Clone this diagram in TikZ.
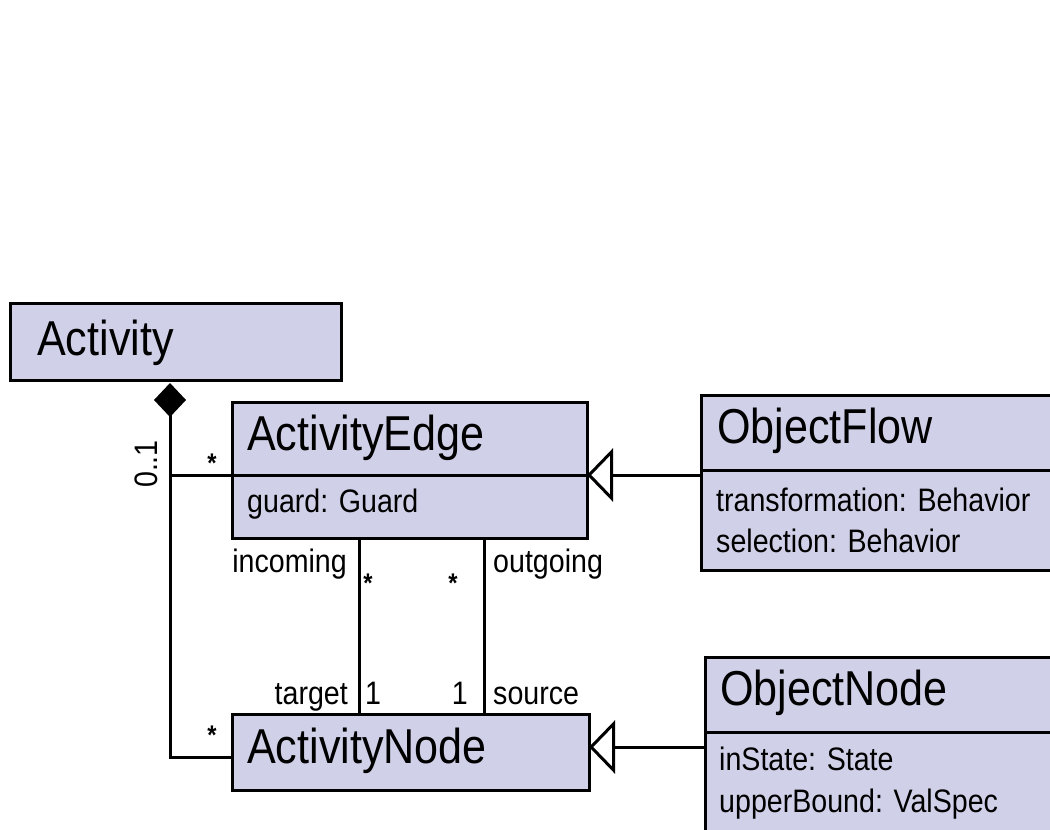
\documentclass[tikz,border=0pt]{standalone}
\usepackage{fontspec}
\setmainfont{Liberation Sans}[FakeStretch=0.88]
\usetikzlibrary{arrows.meta,positioning}
\usepackage{xcolor}
\definecolor{classfill}{RGB}{208,208,232}

\begin{document}
\begin{tikzpicture}[x=1pt,y=-1pt,
    classbox/.style={draw,fill=classfill,line width=3pt,outer sep=0pt,inner sep=0pt,anchor=north west},
    classname/.style={font=\fontsize{49}{55}\selectfont,inner sep=0pt,anchor=base west},
    attr/.style={font=\fontsize{32.5}{40}\selectfont,inner sep=0pt,anchor=base west},
    mult/.style={font=\fontsize{32.5}{40}\selectfont,inner sep=0pt},
    star/.style={font=\fontsize{27}{30}\bfseries\selectfont,inner sep=0pt,anchor=base},
    assoc/.style={line width=3pt},
    inherit/.style={line width=3pt,-{Triangle[open,width=53pt,length=26pt]}}]
  \useasboundingbox (0,0) rectangle (1050,830);

  % classes
  \node[classbox,minimum width=331pt,minimum height=77pt] (activity) at (10,303) {};
  \node[classbox,minimum width=355pt,minimum height=136pt] (actedge) at (232,402) {};
  \node[classbox,minimum width=357pt,minimum height=76pt] (actnode) at (232,714) {};
  \node[classbox,minimum width=500pt,minimum height=175pt] (objflow) at (701,395) {};
  \node[classbox,minimum width=500pt,minimum height=180pt] (objnode) at (705,657) {};

  \coordinate (edgediv) at ([yshift=-73pt]actedge.north west);
  \draw[assoc] (edgediv) -- (edgediv -| actedge.east);
  \draw[assoc] ([yshift=-75pt]objflow.north west) -- ([yshift=-75pt]objflow.north east);
  \draw[assoc] ([yshift=-75pt]objnode.north west) -- ([yshift=-75pt]objnode.north east);

  \node[classname] (activityname) at (37,355) {Activity};
  \node[classname] (actedgename) at (247,450) {ActivityEdge};
  \node[attr] (guard) at (247,512) {guard: Guard};
  \node[classname] (actnodename) at (247,763) {ActivityNode};
  \node[classname] (objflowname) at (717,443) {ObjectFlow};
  \node[attr] (transf) at (716,511) {transformation: Behavior};
  \node[attr] (select) at (716,552) {selection: Behavior};
  \node[classname] (objnodename) at (720,705) {ObjectNode};
  \node[attr] (instate) at (719,770) {inState: State};
  \node[attr] (upper) at (719,812) {upperBound: ValSpec};

  % composition
  \draw[assoc,{Diamond[width=32pt,length=34pt]}-] ([xshift=160pt,yshift=-3pt]activity.south west) coordinate (spine)
    |- ([yshift=-5pt]actnode.west);
  \draw[assoc] (spine |- edgediv) -- (edgediv);
  \node[mult,rotate=90,anchor=base] (compmult) at (157,464) {0..1};

  % incoming / outgoing
  \draw[assoc] ([xshift=127pt]actedge.south west) -- ([xshift=127pt]actnode.north west);
  \draw[assoc] ([xshift=252pt]actedge.south west) -- ([xshift=252pt]actnode.north west);
  \node[mult,anchor=base east] (incoming) at (347,572) {incoming};
  \node[mult,anchor=base west] (outgoing) at (493,572) {outgoing};
  \node[mult,anchor=base east] (target) at (348,704) {target};
  \node[mult,anchor=base west] (source) at (493,704) {source};
  \node[mult,anchor=base west] (targetmult) at (365,704) {1};
  \node[mult,anchor=base east] (sourcemult) at (468,704) {1};
  \foreach \x/\y/\n in {212/472/edgestar,368/592/instar,453/592/outstar,212/744/nodestar}
    \node[star] (\n) at (\x,\y) {*};

  % generalizations
  \draw[inherit] (objflow.west |- edgediv) -- (actedge.east |- edgediv);
  \draw[inherit] (objnode.west) -- (objnode.west -| actnode.east);
\end{tikzpicture}
\end{document}
